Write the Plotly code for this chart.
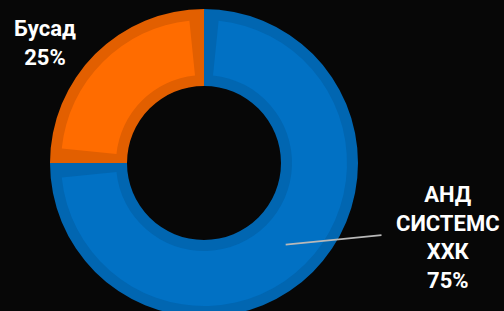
import math
import plotly.graph_objects as go

# ---- data ----
labels = ["АНД СИСТЕМС ХХК", "Бусад"]
label_text = ["АНД<br>СИСТЕМС<br>ХХК", "Бусад"]
values = [75, 25]
colors_main = ["#0171C4", "#FF6C00"]
colors_edge = ["#0166B1", "#E25F00"]

# ---- geometry (pixels) ----
W, H = 504, 330
cx, cy = 204, 163
R_out, R_in = 154, 77
band = 11

def dom(r):
    return dict(x=[(cx - r) / W, (cx + r) / W], y=[1 - (cy + r) / H, 1 - (cy - r) / H])

total = sum(values)
r_mid = (R_out + R_in) / 2
gap = (band / (r_mid - 8)) / (2 * math.pi) * total

# inner (bright) trace values with transparent spacers
vals_b, cols_b = [gap], ["rgba(0,0,0,0)"]
for i, v in enumerate(values):
    vals_b.append(v - 2 * gap)
    cols_b.append(colors_main[i])
    vals_b.append(2 * gap if i < len(values) - 1 else gap)
    cols_b.append("rgba(0,0,0,0)")

fig = go.Figure()
fig.add_trace(go.Pie(
    values=values, labels=labels, hole=R_in / R_out, sort=False, direction="clockwise",
    marker=dict(colors=colors_edge, line=dict(width=0)), textinfo="none",
    hoverinfo="skip", showlegend=False, domain=dom(R_out),
))
r2o, r2i = R_out - band, R_in + band
fig.add_trace(go.Pie(
    values=vals_b, hole=r2i / r2o, sort=False, direction="clockwise",
    marker=dict(colors=cols_b, line=dict(width=0)), textinfo="none",
    hoverinfo="skip", showlegend=False, domain=dom(r2o),
))

# leader line for the big slice, from slice mid-angle at mid radius
ang = math.radians(360 * (values[0] / 2) / total)
tip_x = cx + r_mid * math.sin(ang)
tip_y = cy - r_mid * math.cos(ang)
tail_x, tail_y = 383, 235

annotations = [
    dict(x=tip_x / W, y=1 - tip_y / H, xref="paper", yref="paper", text="",
         showarrow=True, arrowhead=0, arrowwidth=1.6, arrowcolor="#B8B8B8",
         ax=tail_x - tip_x, ay=tail_y - tip_y, axref="pixel", ayref="pixel"),
    dict(x=448 / W, y=1 - 237 / H, xref="paper", yref="paper",
         text=f"<b>{label_text[0]}<br>{values[0]}%</b>", showarrow=False,
         xanchor="center", yanchor="middle", align="center",
         font=dict(family="Roboto", size=22, color="#FFFFFF")),
    dict(x=45 / W, y=1 - 43 / H, xref="paper", yref="paper",
         text=f"<b>{label_text[1]}<br>{values[1]}%</b>", showarrow=False,
         xanchor="center", yanchor="middle", align="center",
         font=dict(family="Roboto", size=22, color="#FFFFFF")),
]

fig.update_layout(
    width=W, height=H, margin=dict(l=0, r=0, t=0, b=0, pad=0),
    paper_bgcolor="#070707", plot_bgcolor="#070707",
    showlegend=False, annotations=annotations,
)

fig.write_html("out.html", config={"displayModeBar": False},
               post_script="document.body.style.margin='0';document.body.style.overflow='hidden';document.body.style.background='#070707';")
